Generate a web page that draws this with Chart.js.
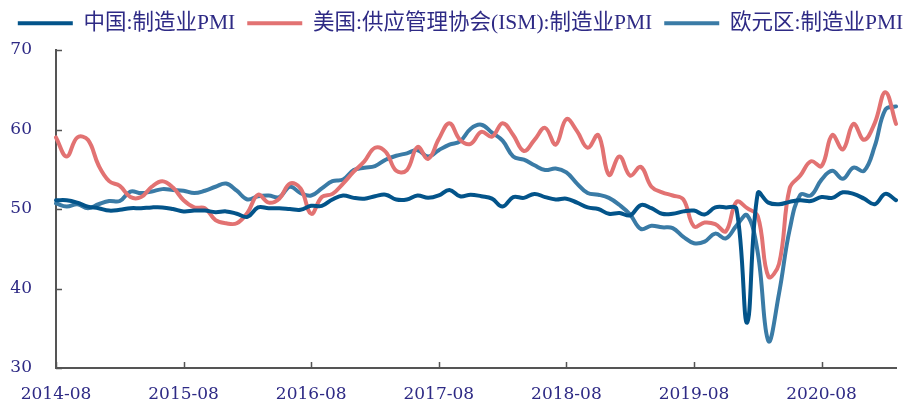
<!DOCTYPE html>
<html lang="zh">
<head>
<meta charset="utf-8">
<title>中美欧制造业PMI</title>
<script src="https://cdn.jsdelivr.net/npm/chart.js@4.4.1/dist/chart.umd.min.js"></script>
<style>
  html, body { margin: 0; padding: 0; background: #fff; }
  #wrap { width: 921px; height: 405px; position: relative; }
</style>
</head>
<body>
<div id="wrap"><canvas id="pmiChart"></canvas></div>
<script>
// ---- data (monthly, first category 2014-08) ----
const startYear = 2014;
const startMonth = 8;
const monthCount = 80;

const chinaPMI = [
  51.1, 51.1, 50.8, 50.3, 50.1,
  49.8, 49.9, 50.1, 50.1, 50.2, 50.2, 50.0, 49.7, 49.8, 49.8, 49.6, 49.7,
  49.4, 49.0, 50.2, 50.1, 50.1, 50.0, 49.9, 50.4, 50.4, 51.2, 51.7, 51.4,
  51.3, 51.6, 51.8, 51.2, 51.2, 51.7, 51.4, 51.7, 52.4, 51.6, 51.8, 51.6,
  51.3, 50.3, 51.5, 51.4, 51.9, 51.5, 51.2, 51.3, 50.8, 50.2, 50.0, 49.4,
  49.5, 49.2, 50.5, 50.1, 49.4, 49.4, 49.7,
  49.8, 49.3, 50.2, 50.2, 50.0, 35.7, 52.0, 50.8, 50.6, 50.9, 51.1, 51.0,
  51.5, 51.4, 52.1, 51.9, 51.3, 50.6, 51.9, 51.1
];

const usISM = [
  59.0, 56.6, 59.0, 58.7, 55.5,
  53.5, 52.9, 51.5, 51.5, 52.8, 53.5, 52.7, 51.1, 50.2, 50.1, 48.6, 48.2,
  48.2, 49.5, 51.8, 50.8, 51.3, 53.2, 52.6, 49.4, 51.5, 51.9, 53.2, 54.7,
  56.0, 57.7, 57.2, 54.8, 54.9, 57.8, 56.3, 58.8, 60.8, 58.7, 58.2, 59.7,
  59.1, 60.8, 59.3, 57.3, 58.7, 60.2, 58.1, 61.3, 59.8, 57.7, 59.3, 54.3,
  56.6, 54.2, 55.3, 52.8, 52.1, 51.7, 51.2,
  47.8, 48.3, 48.1, 47.2, 50.9, 50.1, 49.1, 41.5, 43.1, 52.6, 54.2, 56.0,
  55.4, 59.3, 57.5, 60.7, 58.7, 60.8, 64.7, 60.7
];

const euroPMI = [
  50.7, 50.3, 50.6, 50.1, 50.6,
  51.0, 51.0, 52.2, 52.0, 52.2, 52.5, 52.4, 52.3, 52.0, 52.3, 52.8, 53.2,
  52.3, 51.2, 51.6, 51.7, 51.5, 52.8, 52.0, 51.7, 52.6, 53.5, 53.7, 54.9,
  55.2, 55.4, 56.2, 56.7, 57.0, 57.4, 56.6, 57.4, 58.1, 58.5, 60.1, 60.6,
  59.6, 58.6, 56.6, 56.2, 55.5, 54.9, 55.1, 54.6, 53.2, 52.0, 51.8, 51.4,
  50.5, 49.3, 47.5, 47.9, 47.7, 47.6, 46.5,
  45.7, 45.9, 46.9, 46.3, 47.9, 49.2, 44.5, 33.4, 39.4, 47.4, 51.8, 51.7,
  53.7, 54.8, 53.8, 55.2, 54.8, 57.9, 62.5, 62.9
];

const seriesNames = ['中国:制造业PMI', '美国:供应管理协会(ISM):制造业PMI', '欧元区:制造业PMI'];
const yTicks = [30, 40, 50, 60, 70];

// month labels, e.g. "2014-08"
const monthLabels = [];
for (let i = 0; i < monthCount; i++) {
  const m = startMonth - 1 + i;
  const yy = startYear + Math.floor(m / 12);
  const mm = (m % 12) + 1;
  monthLabels.push(yy + '-' + (mm < 10 ? '0' + mm : mm));
}

const textColor = '#2e2a85';
const axisColor = '#555555';

// short tick marks pointing into the plot (like the original)
const innerTicks = {
  id: 'innerTicks',
  afterLayout(chart) {
    // pull the legend row up a little
    chart.legend.top -= 6;
    chart.legend.bottom -= 6;
  },
  afterDatasetsDraw(chart) {
    const { ctx } = chart;
    const xs = chart.scales.x, ys = chart.scales.y;
    ctx.save();
    ctx.strokeStyle = axisColor;
    ctx.lineWidth = 1.5;
    ctx.beginPath();
    yTicks.forEach(v => {
      const py = Math.round(ys.getPixelForValue(v)) + 0.5;
      ctx.moveTo(xs.left, py);
      ctx.lineTo(xs.left + 6, py);
    });
    monthLabels.forEach((lab, i) => {
      if (lab.endsWith('-08')) {
        const px = Math.round(xs.getPixelForValue(i)) + 0.5;
        ctx.moveTo(px, ys.bottom);
        ctx.lineTo(px, ys.bottom - 6);
      }
    });
    ctx.stroke();
    ctx.restore();
  }
};

const lineSet = (label, data, color) => ({
  label,
  data,
  borderColor: color,
  backgroundColor: color,
  borderWidth: 4,
  borderCapStyle: 'round',
  pointRadius: 0,
  pointHoverRadius: 0,
  tension: 0.4,
  fill: false
});

new Chart(document.getElementById('pmiChart'), {
  type: 'line',
  data: {
    labels: monthLabels,
    datasets: [
      lineSet(seriesNames[0], chinaPMI, '#03548a'),
      lineSet(seriesNames[1], usISM, '#e27272'),
      lineSet(seriesNames[2], euroPMI, '#3a7ba6')
    ]
  },
  options: {
    responsive: true,
    maintainAspectRatio: false,
    animation: false,
    layout: { padding: { top: -5 } },
    plugins: {
      tooltip: { enabled: false },
      legend: {
        position: 'top',
        labels: {
          usePointStyle: true,
          pointStyle: 'line',
          pointStyleWidth: 55,
          padding: 12,
          color: textColor,
          font: { family: "'Liberation Serif', 'Noto Sans CJK SC', serif", size: 21.5 }
        }
      }
    },
    scales: {
      x: {
        type: 'category',
        offset: false,
        grid: { display: false, drawTicks: false },
        border: { display: true, color: axisColor, width: 2 },
        ticks: {
          autoSkip: false,
          maxRotation: 0,
          minRotation: 0,
          padding: 16,
          color: textColor,
          font: { family: "'DejaVu Serif', serif", size: 17 },
          callback: function (value, index) {
            const lab = this.getLabelForValue(value);
            return lab.endsWith('-08') ? lab : null;
          }
        },
        afterFit(scale) { scale.paddingRight = 25; scale.height = 37; }
      },
      y: {
        min: 30,
        max: 70,
        grid: { display: false, drawTicks: false },
        border: { display: true, color: axisColor, width: 2 },
        ticks: {
          stepSize: 10,
          padding: 24,
          color: textColor,
          font: { family: "'DejaVu Serif', serif", size: 17 }
        },
        afterFit(scale) { scale.width = 56; scale.paddingTop = 50; }
      }
    }
  },
  plugins: [innerTicks]
});
</script>
</body>
</html>
